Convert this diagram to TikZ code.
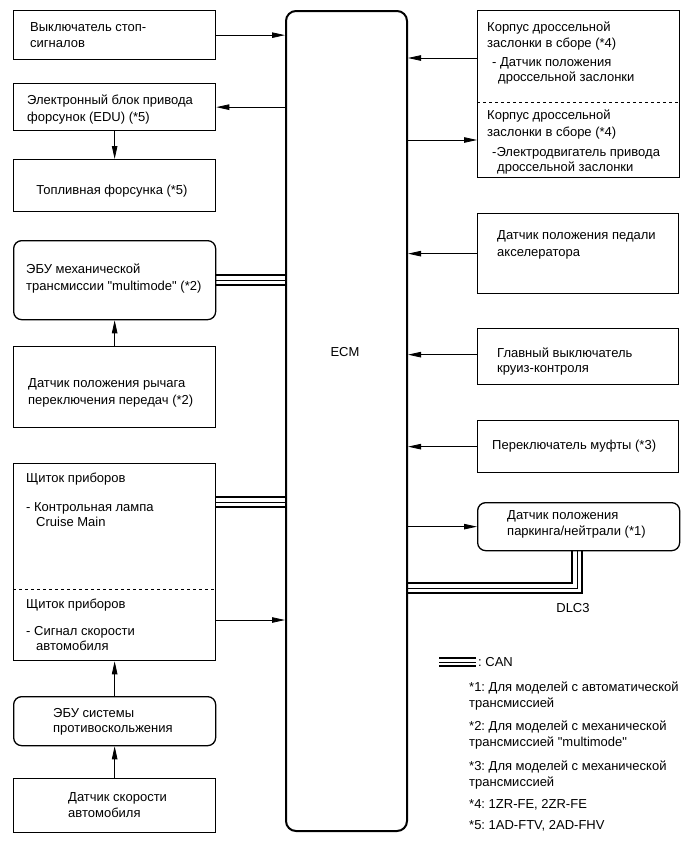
\documentclass[tikz,border=0pt]{standalone}
\usepackage{fontspec}
\setmainfont{Liberation Sans}[Ligatures=TeXOff]
\usetikzlibrary{arrows.meta,calc}
\begin{document}
\frenchspacing
\begin{tikzpicture}[x=1pt,y=-1pt,
  box/.style={draw,line width=1.3pt,inner sep=0pt,anchor=north west,minimum width=202pt},
  rbox/.style={box,rounded corners=8pt},
  txt/.style={anchor=base west,inner sep=0pt,font=\fontsize{13}{16}\selectfont},
  arr/.style={line width=0.8pt,-{Triangle[length=13pt,width=5.5pt]}},
  canthick/.style={line width=1.6pt},
  canthin/.style={line width=0.8pt}]
\useasboundingbox (0,0) rectangle (691,855);

% ECM
\node[draw,line width=2pt,rounded corners=10pt,inner sep=0pt,anchor=north west,minimum width=121pt,minimum height=820pt] (ecm) at (285,10) {};
\node[anchor=center,inner sep=0pt,font=\fontsize{13}{16}\selectfont] (ecmt) at (345,352) {ECM};

% left column
\node[box,minimum height=49pt] (b1) at (13,10) {};
\node[txt] (b1a) at (30,31) {Выключатель стоп-};
\node[txt] (b1b) at (30,47) {сигналов};

\node[box,minimum height=47pt] (b2) at (13,83) {};
\node[txt] (b2a) at (27,104) {Электронный блок привода};
\node[txt] (b2b) at (27,121) {форсунок (EDU) (*5)};

\node[box,minimum height=52pt] (b3) at (13,159) {};
\node[anchor=base,inner sep=0pt,font=\fontsize{13}{16}\selectfont] (b3a) at (112,194) {Топливная форсунка (*5)};

\node[rbox,minimum height=79pt] (mt) at (13,240) {};
\node[txt] (mta) at (26,273) {ЭБУ механической};
\node[txt] (mtb) at (26,290) {трансмиссии "multimode" (*2)};

\node[box,minimum height=81pt] (lev) at (13,346) {};
\node[txt] (leva) at (28,387) {Датчик положения рычага};
\node[txt] (levb) at (28,404) {переключения передач (*2)};

\node[box,minimum height=197pt] (inst) at (13,463) {};
\draw[dashed,line width=0.7pt] ($(inst.north west)+(0,126)$) coordinate (dl1) -- (dl1 -| inst.east);
\node[txt] (ia) at (26,482) {Щиток приборов};
\node[txt] (ib) at (26,511) {- Контрольная лампа};
\node[txt] (ic) at (36,526) {Cruise Main};
\node[txt] (id) at (26,608) {Щиток приборов};
\node[txt] (ie) at (26,635) {- Сигнал скорости};
\node[txt] (if) at (36,650) {автомобиля};

\node[rbox,minimum height=49pt] (abs) at (13,696) {};
\node[txt] (absa) at (53,717) {ЭБУ системы};
\node[txt] (absb) at (53,732) {противоскольжения};

\node[box,minimum height=54pt] (spd) at (13,778) {};
\node[txt] (spda) at (68,801) {Датчик скорости};
\node[txt] (spdb) at (68,817) {автомобиля};

% right column
\node[box,minimum height=167pt] (thr) at (477,10) {};
\draw[dashed,line width=0.7pt] ($(thr.north west)+(0,92)$) coordinate (dl2) -- (dl2 -| thr.east);
\node[txt] (tha) at (487,31) {Корпус дроссельной};
\node[txt] (thb) at (487,47) {заслонки в сборе (*4)};
\node[txt] (thc) at (492,66) {- Датчик положения};
\node[txt] (thd) at (498,81) {дроссельной заслонки};
\node[txt] (the) at (487,119) {Корпус дроссельной};
\node[txt] (thf) at (487,136) {заслонки в сборе (*4)};
\node[txt] (thg) at (492,156) {-Электродвигатель привода};
\node[txt] (thh) at (497,171) {дроссельной заслонки};

\node[box,minimum width=201pt,minimum height=80pt] (ped) at (477,213) {};
\node[txt] (peda) at (497,239) {Датчик положения педали};
\node[txt] (pedb) at (497,256) {акселератора};

\node[box,minimum width=201pt,minimum height=56pt] (cru) at (477,328) {};
\node[txt] (crua) at (497,357) {Главный выключатель};
\node[txt] (crub) at (497,372) {круиз-контроля};

\node[box,minimum width=201pt,minimum height=52pt] (clu) at (477,420) {};
\node[txt] (clua) at (492,449) {Переключатель муфты (*3)};

\node[rbox,minimum height=48pt] (park) at (477,502) {};
\node[txt] (parka) at (507,519) {Датчик положения};
\node[txt] (parkb) at (507,535) {паркинга/нейтрали (*1)};

\node[anchor=center,inner sep=0pt,font=\fontsize{13}{16}\selectfont] (dlc) at (573,608) {DLC3};

% connectors
\coordinate (tp1) at ($(thr.north west)+(0,48)$);
\coordinate (tp2) at ($(thr.north west)+(0,130)$);
\draw[arr] (b1.east) -- (b1.east -| ecm.west);
\draw[arr] (b2.east -| ecm.west) -- (b2.east);
\draw[arr] (b2.south) -- (b3.north);
\draw[arr] (tp1) -- (tp1 -| ecm.east);
\draw[arr] (tp2 -| ecm.east) -- (tp2);
\draw[arr] (lev.north) -- (mt.south);
\draw[arr] (ped.west) -- (ped.west -| ecm.east);
\coordinate (cp) at ($(cru.west)+(0,-2)$);
\draw[arr] (cp) -- (cp -| ecm.east);
\draw[arr] (clu.west) -- (clu.west -| ecm.east);
\draw[arr] (park.west -| ecm.east) -- (park.west);
\coordinate (ip) at ($(inst.north east)+(0,157)$);
\draw[arr] (ip) -- (ip -| ecm.west);
\draw[arr] (abs.north) -- (inst.south);
\draw[arr] (spd.north) -- (abs.south);

% CAN lines
\coordinate (m1) at ($(mt.east)+(0,-5)$);
\coordinate (m3) at ($(mt.east)+(0,5)$);
\draw[canthick] (m1) -- (m1 -| ecm.west);
\draw[canthin]  (mt.east) -- (mt.east -| ecm.west);
\draw[canthick] (m3) -- (m3 -| ecm.west);

\coordinate (i1) at ($(inst.north east)+(0,34)$);
\coordinate (i2) at ($(inst.north east)+(0,39)$);
\coordinate (i3) at ($(inst.north east)+(0,44)$);
\draw[canthick] (i1) -- (i1 -| ecm.west);
\draw[canthin]  (i2) -- (i2 -| ecm.west);
\draw[canthick] (i3) -- (i3 -| ecm.west);

\coordinate (d1) at ($(park.south west)+(95,0)$);
\coordinate (d2) at ($(park.south west)+(100,0)$);
\coordinate (d3) at ($(park.south west)+(105,0)$);
\draw[canthick] (ecm.east |- 0,583) -- (d1 |- 0,583) -- (d1);
\draw[canthin]  (ecm.east |- 0,588) -- (d2 |- 0,588) -- (d2);
\draw[canthick] (ecm.east |- 0,593) -- (d3 |- 0,593) -- (d3);

% legend
\coordinate (lg1) at (439,658);
\coordinate (lg2) at (476,658);
\draw[canthick] (lg1) -- (lg2);
\draw[canthin] ($(lg1)+(0,4)$) -- ($(lg2)+(0,4)$);
\draw[canthick] ($(lg1)+(0,8)$) -- ($(lg2)+(0,8)$);
\node[txt] (lga) at (478,666) {: CAN};
\node[txt] (n1a) at (469,691) {*1: Для моделей с автоматической};
\node[txt] (n1b) at (469,707) {трансмиссией};
\node[txt] (n2a) at (469,730) {*2: Для моделей с механической};
\node[txt] (n2b) at (469,746) {трансмиссией "multimode"};
\node[txt] (n3a) at (469,770) {*3: Для моделей с механической};
\node[txt] (n3b) at (469,786) {трансмиссией};
\node[txt] (n4) at (469,808) {*4: 1ZR-FE, 2ZR-FE};
\node[txt] (n5) at (469,829) {*5: 1AD-FTV, 2AD-FHV};
\end{tikzpicture}
\end{document}
